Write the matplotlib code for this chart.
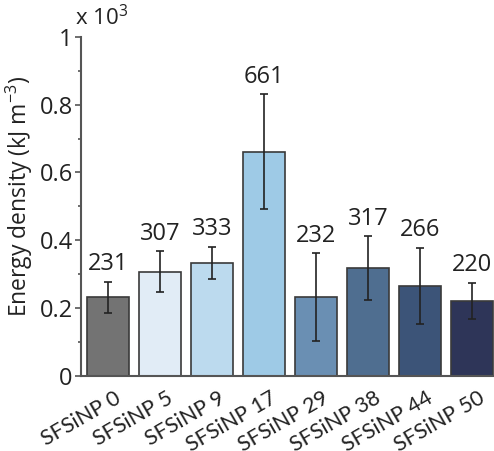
import matplotlib
matplotlib.use("Agg")
import matplotlib.pyplot as plt
from matplotlib.ticker import MultipleLocator
from matplotlib.transforms import ScaledTranslation

labels = ["SFSiNP 0", "SFSiNP 5", "SFSiNP 9", "SFSiNP 17",
          "SFSiNP 29", "SFSiNP 38", "SFSiNP 44", "SFSiNP 50"]
energy = [231, 307, 333, 661, 232, 317, 266, 220]
errors = [46, 60, 48, 170, 130, 95, 112, 54]
colors = ["#737373", "#e1ecf6", "#bcdaee", "#9ecae6",
          "#6a8fb3", "#4f6e90", "#3c5478", "#2e3558"]

plt.rcParams["font.family"] = ["Open Sans", "DejaVu Sans"]
plt.rcParams["mathtext.default"] = "regular"

fig = plt.figure(figsize=(4.94, 4.51), dpi=100)
ax = fig.add_axes([0.164, 0.167, 0.836, 0.751])

x = list(range(len(labels)))
vals = [v / 1000 for v in energy]
errs = [e / 1000 for e in errors]
ax.bar(x, vals, width=0.8, color=colors, edgecolor="#3a3a3a", linewidth=1.2,
       yerr=errs, error_kw=dict(ecolor="#222222", elinewidth=1.2, capsize=3.2, capthick=1.2))

for xi, v, e, s in zip(x, vals, errs, energy):
    ax.annotate(str(s), (xi, v + e), xytext=(0, 4), textcoords="offset points",
                ha="center", va="bottom", fontsize=17, color="#222222")

ax.set_xlim(-0.52, 7.42)
ax.set_ylim(0, 1)
ax.yaxis.set_minor_locator(MultipleLocator(0.1))
ax.set_yticks([0, 0.2, 0.4, 0.6, 0.8, 1])
ax.set_yticklabels(["0", "0.2", "0.4", "0.6", "0.8", "1"])
ax.tick_params(axis="y", which="major", length=4, width=1.2, color="#555555",
               labelsize=17, labelcolor="#222222", pad=2)
ax.tick_params(axis="y", which="minor", length=2.5, width=1.2, color="#555555")
ax.set_xticks(x)
ax.set_xticklabels(labels, rotation=30, ha="right", rotation_mode="anchor",
                   fontsize=15.5, color="#222222", family=["Lato", "DejaVu Sans"])
ax.tick_params(axis="x", length=0, pad=9)
shift = ScaledTranslation(6 / 100, 0, fig.dpi_scale_trans)
for lab in ax.get_xticklabels():
    lab.set_transform(lab.get_transform() + shift)

for side in ["top", "right"]:
    ax.spines[side].set_visible(False)
for side in ["left", "bottom"]:
    ax.spines[side].set_color("#555555")
    ax.spines[side].set_linewidth(1.5)

ax.set_ylabel("Energy density (kJ m$^{-3}$)", fontsize=16.5, color="#222222", labelpad=0)
ax.yaxis.set_label_coords(-0.111, 0.53)
ax.text(-0.015, 1.02, r"x 10$^{3}$", transform=ax.transAxes, fontsize=16,
        color="#222222", ha="left", va="bottom")

fig.savefig("out.png", dpi=100)
